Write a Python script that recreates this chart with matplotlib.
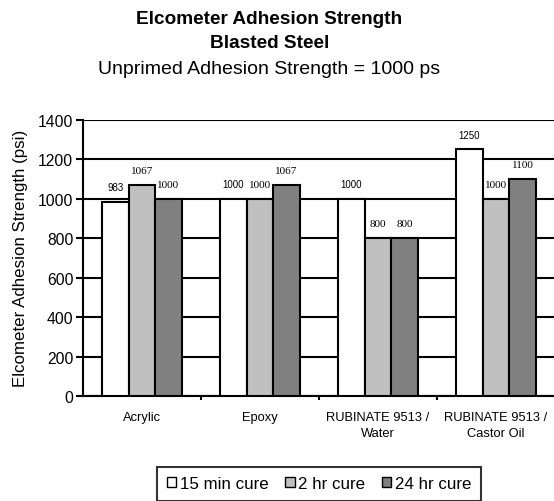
import matplotlib
matplotlib.use("Agg")
import matplotlib.pyplot as plt
import numpy as np

plt.rcParams["font.family"] = ["Liberation Sans", "DejaVu Sans"]

categories = ["Acrylic", "Epoxy", "RUBINATE 9513 /\nWater", "RUBINATE 9513 /\nCastor Oil"]
series_names = ["15 min cure", "2 hr cure", "24 hr cure"]
cure_15min = [983, 1000, 1000, 1250]
cure_2hr = [1067, 1000, 800, 1000]
cure_24hr = [1000, 1067, 800, 1100]
series_values = [cure_15min, cure_2hr, cure_24hr]
colors = ["#FFFFFF", "#C0C0C0", "#808080"]
label_fonts = ["Liberation Sans", "Liberation Serif", "Liberation Serif"]
label_sizes = [7, 8, 8]
yticks = [0, 200, 400, 600, 800, 1000, 1200, 1400]

fig = plt.figure(figsize=(5.54, 5.02), dpi=100)
ax = fig.add_axes([0.1498, 0.2092, 0.852, 0.5504])

x = np.arange(len(categories))
width = 0.225

for i, (name, vals) in enumerate(zip(series_names, series_values)):
    pos = x + (i - 1) * width
    bars = ax.bar(pos, vals, width, color=colors[i], edgecolor="black",
                  linewidth=1.5, label=name, zorder=3)
    for b, v in zip(bars, vals):
        ax.annotate(str(v), (b.get_x() + b.get_width() / 2, v),
                    xytext=(0, 10.5), textcoords="offset points",
                    ha="center", va="center", fontsize=label_sizes[i],
                    family=label_fonts[i], zorder=4)

ax.set_xlim(-0.5, len(categories) - 0.5)
ax.set_ylim(0, 1400)
ax.set_yticks(yticks)
ax.set_yticklabels([str(t) for t in yticks], fontsize=11.3)
ax.yaxis.grid(True, color="black", linewidth=1.5, zorder=0)
ax.set_axisbelow(True)

ax.set_xticks(x)
ax.set_xticklabels(categories, fontsize=9.3, linespacing=1.5)
ax.tick_params(axis="x", which="major", length=0, pad=10.5)
ax.set_xticks(np.arange(0.5, len(categories) - 0.5), minor=True)
ax.tick_params(axis="x", which="minor", length=3, width=1.5, direction="out")
ax.tick_params(axis="y", length=5, width=1.5, direction="out", pad=2)

for s in ["top", "right"]:
    ax.spines[s].set_visible(False)
ax.spines["left"].set_linewidth(1.5)
ax.spines["bottom"].set_linewidth(1.5)

ax.set_ylabel("Elcometer Adhesion Strength (psi)", fontsize=12.2, labelpad=7)

fig.text(0.486, 1 - 19 / 502, "Elcometer Adhesion Strength", ha="center", va="center",
         fontsize=13.7, fontweight="bold")
fig.text(0.486, 1 - 44 / 502, "Blasted Steel", ha="center", va="center",
         fontsize=13.7, fontweight="bold")
fig.text(0.486, 1 - 70 / 502, "Unprimed Adhesion Strength = 1000 ps", ha="center",
         va="center", fontsize=14)

leg = fig.legend(loc="upper center", bbox_to_anchor=(319 / 554, 1 - 468 / 502),
                 ncol=3, frameon=True, fancybox=False, fontsize=12.2,
                 handlelength=0.55, handleheight=0.55, handletextpad=0.2,
                 columnspacing=1.0, borderpad=0.55, borderaxespad=0)
leg.get_frame().set_edgecolor("black")
leg.get_frame().set_linewidth(1.5)
for h in leg.legend_handles:
    h.set_linewidth(1.0)

fig.savefig("out.png", dpi=100)
